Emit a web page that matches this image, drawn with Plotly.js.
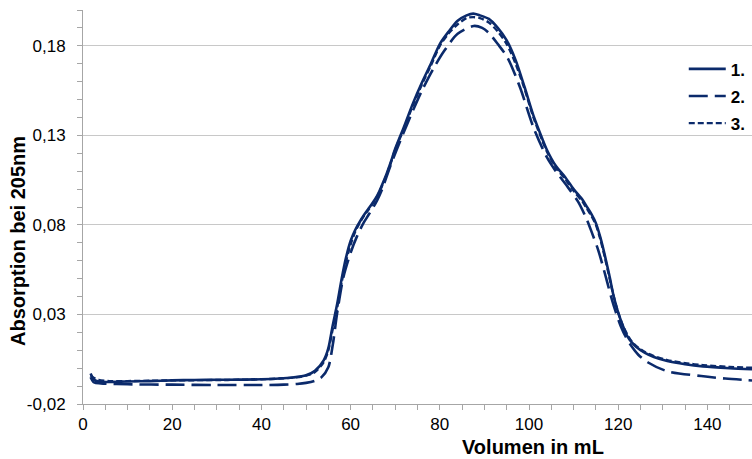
<!DOCTYPE html>
<html>
<head>
<meta charset="utf-8">
<script src="https://cdn.plot.ly/plotly-3.0.1.min.js"></script>
<style>html,body{margin:0;padding:0;background:#fff}#chart{width:752px;height:459px}</style>
</head>
<body>
<div id="chart"></div>
<script>
// Volumen (mL) and absorption at 205 nm
const vol1 = [1.7,2.5,3.5,6,10,15,20,25,30,35,40,44,47,50,52,54,55,56,57,58,59,60,61,62,63,64,65,66,67,68,69,70,72,74,76,78,80,82,84,86,87.5,89,91,93,95,97,99,101,103,104,106,108,110,112,113,114,115,116,117,118,119,120,121,122,123,124,126,128,131,135,139,145,150];
const abs1 = [-0.003,-0.0065,-0.0075,-0.0077,-0.0074,-0.0072,-0.0068,-0.0066,-0.0065,-0.0064,-0.0062,-0.0058,-0.0052,-0.0040,-0.0015,0.0045,0.011,0.024,0.036,0.050,0.062,0.071,0.077,0.0815,0.0855,0.089,0.0925,0.0965,0.102,0.108,0.115,0.1225,0.135,0.148,0.1595,0.170,0.181,0.188,0.194,0.197,0.198,0.197,0.195,0.190,0.183,0.172,0.157,0.141,0.128,0.122,0.113,0.107,0.100,0.094,0.090,0.086,0.081,0.073,0.063,0.052,0.040,0.031,0.024,0.018,0.0145,0.012,0.0085,0.0062,0.004,0.0022,0.001,0.0,-0.0006];

const vol2 = [1.7,2.5,4,10,20,30,40,45,48,50,52,53.5,55,56,57,58.4,60,61.5,63,64,65,66,67,69,71.8,74,76,78.5,81,84,87.6,89.5,91,93,95.2,98,101,104,106,108.7,111,113,114.2,115.5,117,118.4,119.5,120.6,121.8,123,124.5,126.6,131,138.6,144,150];
const abs2 = [-0.005,-0.008,-0.0085,-0.009,-0.0092,-0.0094,-0.0094,-0.0092,-0.0088,-0.0082,-0.0070,-0.0050,0.0005,0.013,0.031,0.051,0.0644,0.074,0.0815,0.0855,0.0895,0.094,0.0995,0.1135,0.131,0.144,0.155,0.167,0.1772,0.1867,0.1911,0.190,0.1872,0.181,0.1733,0.1567,0.1344,0.1178,0.110,0.1011,0.093,0.0828,0.075,0.0661,0.053,0.040,0.031,0.0233,0.017,0.0122,0.0075,0.0033,-0.0017,-0.0044,-0.0058,-0.0069];

const vol3 = [1.7,2.5,3.5,6,10,15,20,25,30,35,40,44,47,50,52,54,55,56,57,58,59,60,61,62,63,64,65,66,67,68,69,70,72,74,76,78,80,82,84,86,87.5,89,91,93,95,97,99,101,103,104,106,108,110,112,113,114,115,116,117,118,119,120,121,122,123,124,126,128,131,135,139,145,150];
const abs3 = [-0.004,-0.0055,-0.0065,-0.0072,-0.0072,-0.0070,-0.0068,-0.0067,-0.0066,-0.0065,-0.0062,-0.0058,-0.0053,-0.0042,-0.0022,0.0035,0.010,0.022,0.034,0.048,0.060,0.069,0.076,0.081,0.085,0.0885,0.092,0.096,0.1015,0.1075,0.1145,0.122,0.134,0.147,0.1585,0.169,0.180,0.187,0.192,0.1955,0.196,0.1955,0.193,0.188,0.181,0.170,0.156,0.140,0.127,0.121,0.112,0.106,0.099,0.093,0.089,0.085,0.080,0.072,0.062,0.051,0.040,0.031,0.024,0.019,0.015,0.0125,0.009,0.0068,0.0045,0.0028,0.0017,0.0007,0.0002];

const seriesNames = ['1.', '2.', '3.'];
const xTickVals = [0,20,40,60,80,100,120,140];
const xTickText = ['0','20','40','60','80','100','120','140'];
const yTickVals = [-0.02,0.03,0.08,0.13,0.18];
const yTickText = ['-0,02','0,03','0,08','0,13','0,18'];

const col = '#0b2a6b';
const traces = [
  {x: vol1, y: abs1, name: seriesNames[0], legendgroup:'a', line:{color:col, width:2.6, shape:'spline', smoothing:0.8}},
  {x: vol2, y: abs2, name: seriesNames[1], legendgroup:'b', line:{color:col, width:2.6, dash:'19px,7px', shape:'spline', smoothing:0.8}},
  {x: vol3, y: abs3, name: seriesNames[2], legendgroup:'c', line:{color:col, width:2.4, dash:'6px,3px', shape:'spline', smoothing:0.8}}
].map(t => Object.assign({type:'scatter', mode:'lines', hoverinfo:'skip'}, t));

const tickFont = {family:'Liberation Sans, Arial, sans-serif', size:17, color:'#000'};
const layout = {
  width:752, height:459,
  margin:{l:83, r:0, t:10, b:55, pad:0},
  paper_bgcolor:'#fff', plot_bgcolor:'#fff',
  showlegend:true,
  legend:{x:0.898, xanchor:'left', y:0.895, yanchor:'top', bgcolor:'rgba(0,0,0,0)',
          font:{family:'Liberation Sans, Arial, sans-serif', size:17, color:'#000', weight:'bold'},
          traceorder:'grouped', tracegroupgap:2, itemwidth:37},
  xaxis:{range:[0,150], tickmode:'array', tickvals:xTickVals, ticktext:xTickText,
         showgrid:false, zeroline:false, showline:true, linecolor:'#a6a6a6', linewidth:1,
         ticks:'outside', ticklen:5, tickcolor:'#a6a6a6', tickfont:tickFont, ticklabelstandoff:0,
         minor:{tickmode:'linear', tick0:0, dtick:5, ticks:'outside', ticklen:5, tickcolor:'#a6a6a6', showgrid:false}},
  yaxis:{range:[-0.02,0.20], tickmode:'array', tickvals:yTickVals, ticktext:yTickText,
         showgrid:true, gridcolor:'#c8c8c8', gridwidth:1, zeroline:false, showline:true, linecolor:'#a6a6a6', linewidth:1,
         ticks:'outside', ticklen:5, tickcolor:'#a6a6a6', tickfont:tickFont, ticklabelstandoff:8,
         minor:{tickmode:'linear', tick0:-0.02, dtick:0.01, ticks:'outside', ticklen:5, tickcolor:'#a6a6a6', showgrid:false}},
  annotations:[
    {text:'Volumen in mL', xref:'paper', yref:'paper', x:(533-83)/669, y:-(447-404)/394, xanchor:'center', yanchor:'middle', showarrow:false,
     font:{family:'Liberation Sans, Arial, sans-serif', size:20, color:'#000', weight:'bold'}},
    {text:'Absorption bei 205nm', xref:'paper', yref:'paper', x:-(83-18)/669, y:(404-241)/394, xanchor:'center', yanchor:'middle', textangle:-90, showarrow:false,
     font:{family:'Liberation Sans, Arial, sans-serif', size:20, color:'#000', weight:'bold'}}
  ]
};
Plotly.newPlot('chart', traces, layout, {staticPlot:true, displayModeBar:false});
</script>
</body>
</html>
